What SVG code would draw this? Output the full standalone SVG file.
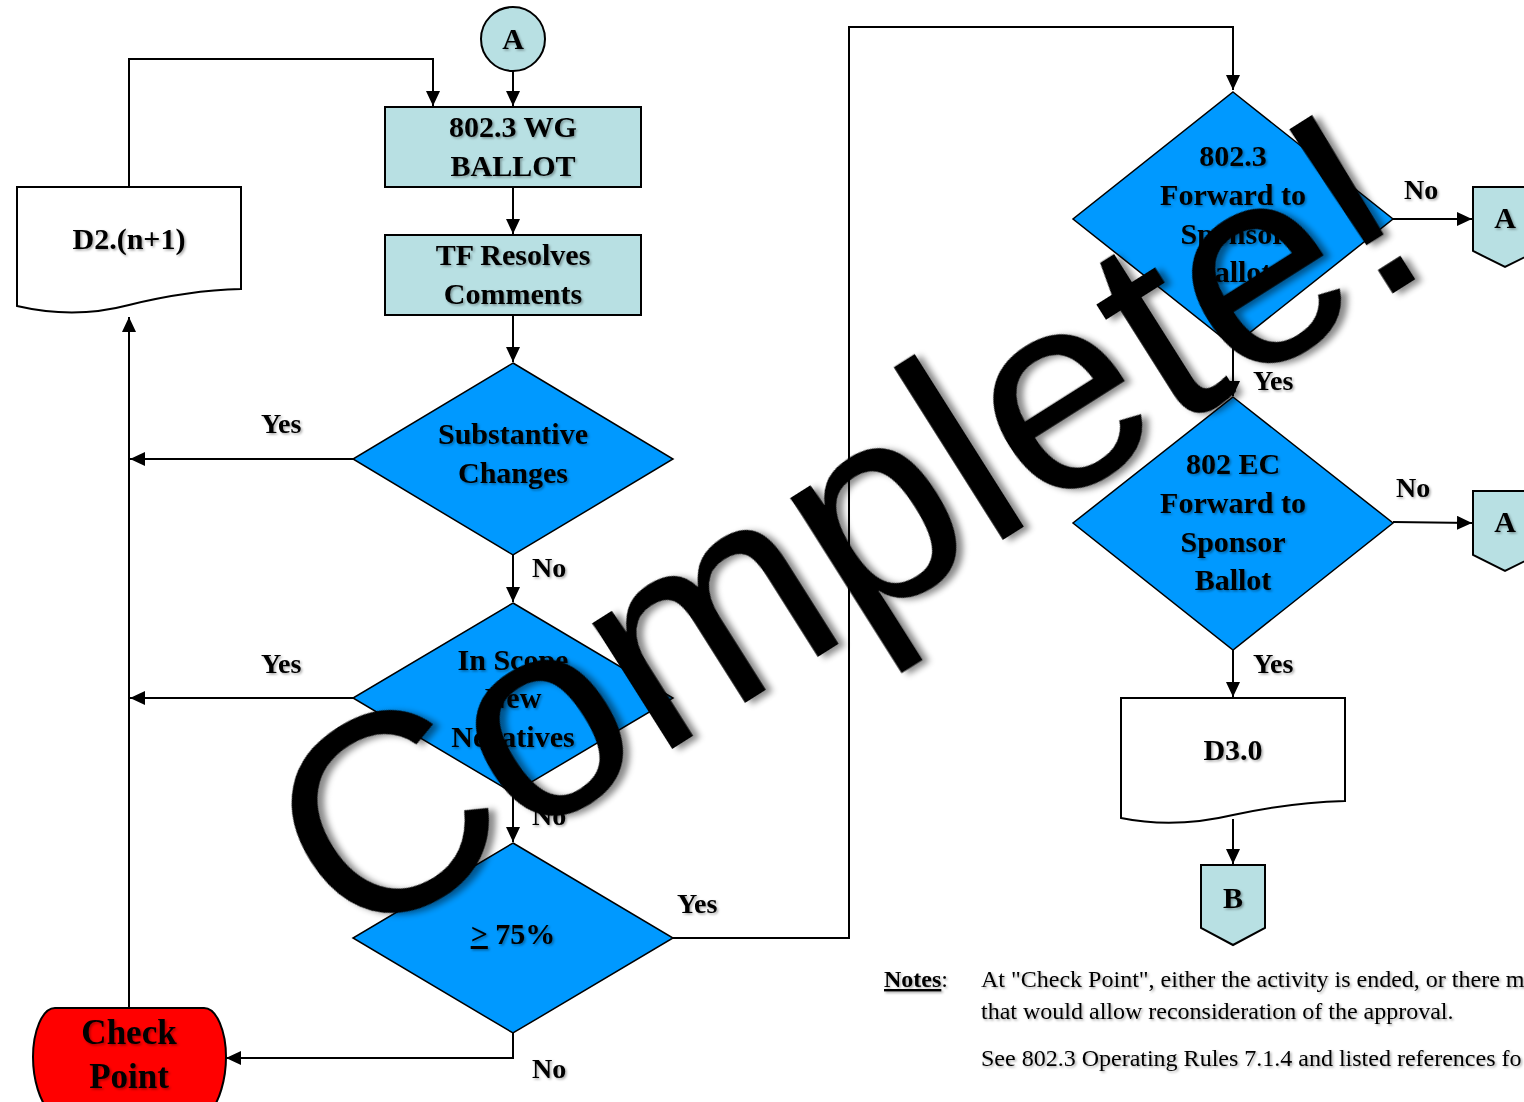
<svg xmlns="http://www.w3.org/2000/svg" width="1524" height="1102" viewBox="0 0 1524 1102">
<style>
.t{font-family:"Liberation Serif","Times New Roman",serif;font-weight:bold;font-size:30px;text-anchor:middle;fill:#000;filter:url(#ts)}
.lbl{font-family:"Liberation Serif","Times New Roman",serif;font-weight:bold;font-size:28px;fill:#000;filter:url(#ts)}
.note{font-family:"Liberation Serif","Times New Roman",serif;font-size:24px;fill:#000;filter:url(#ts)}
.box{fill:#B8E0E3;stroke:#000;stroke-width:2}
.dia{fill:#0099FF;stroke:#000;stroke-width:1.5}
.doc{fill:#fff;stroke:#000;stroke-width:2}
.c{fill:none;stroke:#000;stroke-width:2}
.wm{font-family:"Liberation Sans",Arial,sans-serif;font-size:282px;fill:#000;filter:url(#ws)}
</style>
<defs>
<marker id="ah" markerUnits="userSpaceOnUse" markerWidth="16" markerHeight="14" refX="15" refY="7" orient="auto">
<path d="M0,0 L15,7 L0,14 Z" fill="#000"/>
</marker>
<filter id="ts" x="-10%" y="-20%" width="130%" height="150%">
<feDropShadow dx="1.5" dy="1.5" stdDeviation="1" flood-color="#000" flood-opacity="0.35"/>
</filter>
<filter id="ws" x="-10%" y="-20%" width="130%" height="150%">
<feDropShadow dx="5" dy="5" stdDeviation="3" flood-color="#000" flood-opacity="0.45"/>
</filter>
</defs>
<rect width="1524" height="1102" fill="#fff"/>

<g id="connectors">
<line class="c" x1="513" y1="71" x2="513" y2="106" marker-end="url(#ah)"/>
<line class="c" x1="513" y1="187" x2="513" y2="234" marker-end="url(#ah)"/>
<line class="c" x1="513" y1="315" x2="513" y2="362" marker-end="url(#ah)"/>
<line class="c" x1="353" y1="459" x2="130" y2="459" marker-end="url(#ah)"/>
<line class="c" x1="513" y1="555" x2="513" y2="602" marker-end="url(#ah)"/>
<line class="c" x1="353" y1="698" x2="130" y2="698" marker-end="url(#ah)"/>
<line class="c" x1="513" y1="793" x2="513" y2="842" marker-end="url(#ah)"/>
<polyline class="c" points="673,938 849,938 849,27 1233,27 1233,90" marker-end="url(#ah)"/>
<polyline class="c" points="513,1033 513,1058 226,1058" marker-end="url(#ah)"/>
<line class="c" x1="129" y1="1008" x2="129" y2="317" marker-end="url(#ah)"/>
<polyline class="c" points="129,187 129,59 433,59 433,106" marker-end="url(#ah)"/>
<line class="c" x1="1393" y1="219" x2="1472" y2="219" marker-end="url(#ah)"/>
<line class="c" x1="1233" y1="346" x2="1233" y2="396" marker-end="url(#ah)"/>
<line class="c" x1="1393" y1="522" x2="1472" y2="523" marker-end="url(#ah)"/>
<line class="c" x1="1233" y1="650" x2="1233" y2="697" marker-end="url(#ah)"/>
<line class="c" x1="1233" y1="819" x2="1233" y2="864" marker-end="url(#ah)"/>
<text class="lbl" x="261" y="433">Yes</text>
<text class="lbl" x="532" y="577">No</text>
<text class="lbl" x="261" y="673">Yes</text>
<text class="lbl" x="532" y="825">No</text>
<text class="lbl" x="677" y="913">Yes</text>
<text class="lbl" x="532" y="1078">No</text>
<text class="lbl" x="1404" y="199">No</text>
<text class="lbl" x="1253" y="390">Yes</text>
<text class="lbl" x="1396" y="497">No</text>
<text class="lbl" x="1253" y="673">Yes</text>
</g>

<g id="nodeA">
<circle cx="513" cy="39" r="32" class="box"/>
<text class="t" x="513" y="49">A</text>
</g>
<g id="wgBallot">
<rect x="385" y="107" width="256" height="80" class="box"/>
<text class="t" x="513" y="137">802.3 WG</text>
<text class="t" x="513" y="176">BALLOT</text>
</g>
<g id="tfResolves">
<rect x="385" y="235" width="256" height="80" class="box"/>
<text class="t" x="513" y="265">TF Resolves</text>
<text class="t" x="513" y="304">Comments</text>
</g>
<g id="substantive">
<polygon points="513,363 673,459 513,555 353,459" class="dia"/>
<text class="t" x="513" y="444">Substantive</text>
<text class="t" x="513" y="483">Changes</text>
</g>
<g id="inScope">
<polygon points="513,603 673,698 513,793 353,698" class="dia"/>
<text class="t" x="513" y="670">In Scope</text>
<text class="t" x="513" y="708">New</text>
<text class="t" x="513" y="747">Negatives</text>
</g>
<g id="pct75">
<polygon points="513,843 673,938 513,1033 353,938" class="dia"/>
<text class="t" x="513" y="944"><tspan text-decoration="underline">&gt;</tspan> 75%</text>
</g>
<g id="checkPoint">
<path d="M55,1008 L204,1008 C217,1008 226,1032 226,1057 C226,1080 219,1102 210,1112 L50,1112 C40,1102 33,1080 33,1057 C33,1032 42,1008 55,1008 Z" fill="#FF0000" stroke="#000" stroke-width="2"/>
<text class="t" x="129" y="1044" style="font-size:35px">Check</text>
<text class="t" x="129" y="1088" style="font-size:35px">Point</text>
</g>
<g id="d2">
<path d="M17,187 H241 V289 C200,290 165,296 129,305 C95,314 60,316 17,306 Z" class="doc"/>
<text class="t" x="129" y="249">D2.(n+1)</text>
</g>
<g id="fwd8023">
<polygon points="1233,92 1393,219 1233,346 1073,219" class="dia"/>
<text class="t" x="1233" y="166">802.3</text>
<text class="t" x="1233" y="205">Forward to</text>
<text class="t" x="1233" y="244">Sponsor</text>
<text class="t" x="1233" y="282">Ballot</text>
</g>
<g id="offA1">
<path d="M1473,187 H1537 V251 L1505,267 L1473,251 Z" class="box"/>
<text class="t" x="1505" y="228">A</text>
</g>
<g id="fwdEC">
<polygon points="1233,397 1393,523 1233,650 1073,523" class="dia"/>
<text class="t" x="1233" y="474">802 EC</text>
<text class="t" x="1233" y="513">Forward to</text>
<text class="t" x="1233" y="552">Sponsor</text>
<text class="t" x="1233" y="590">Ballot</text>
</g>
<g id="offA2">
<path d="M1473,491 H1537 V555 L1505,571 L1473,555 Z" class="box"/>
<text class="t" x="1505" y="532">A</text>
</g>
<g id="d3">
<path d="M1121,698 H1345 V801 C1305,802 1270,807 1233,815 C1195,824 1160,826 1121,818 Z" class="doc"/>
<text class="t" x="1233" y="760">D3.0</text>
</g>
<g id="offB">
<path d="M1201,865 H1265 V928 L1233,945 L1201,928 Z" class="box"/>
<text class="t" x="1233" y="908">B</text>
</g>
<g id="notes">
<text class="note" x="884" y="987"><tspan font-weight="bold" text-decoration="underline">Notes</tspan>:</text>
<text class="note" x="981" y="987">At "Check Point", either the activity is ended, or there m</text>
<text class="note" x="981" y="1019">that would allow reconsideration of the approval.</text>
<text class="note" x="981" y="1066">See 802.3 Operating Rules 7.1.4 and listed references fo</text>
</g>
<g id="watermark">
<text class="wm" x="351" y="952" transform="rotate(-32.3 351 952)">Complete!</text>
</g>
</svg>
